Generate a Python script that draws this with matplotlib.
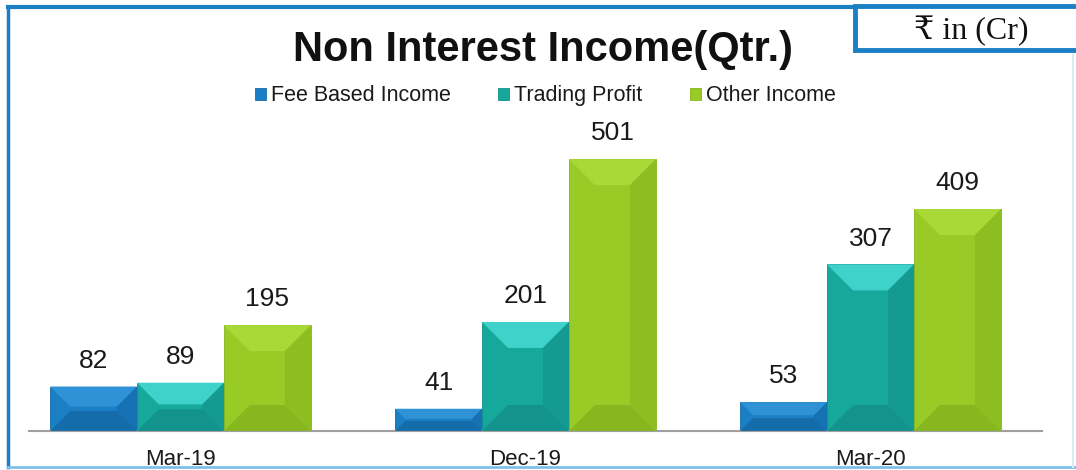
import numpy as np
import matplotlib.pyplot as plt
from matplotlib.patches import Rectangle, Polygon

plt.rcParams['font.family'] = ['Liberation Sans', 'DejaVu Sans']

quarters = ['Mar-19', 'Dec-19', 'Mar-20']
series = ['Fee Based Income', 'Trading Profit', 'Other Income']
fee_based = [82, 41, 53]
trading = [89, 201, 307]
other = [195, 501, 409]

# main face, light (top), dark (right/bottom)
colors = [('#1b7fc6', '#2f92d6', '#156aa8'),
          ('#17a89c', '#3ed2ca', '#12918a'),
          ('#98cb26', '#a9d936', '#85b51e')]

fig = plt.figure(figsize=(10.76, 4.70), dpi=100)
ax = fig.add_axes([8 / 1076, 39 / 470, 1035 / 1076, 331 / 470])

x = np.arange(len(quarters))
width = 0.252
offsets = [-width, 0, width]
px_per_unit = 331 / 610.0

for vals, off, name, (c, cl, cd) in zip([fee_based, trading, other], offsets, series, colors):
    bars = ax.bar(x + off, vals, width, color=c, label=name, edgecolor=cd, linewidth=0.6, zorder=2)
    for b in bars:
        bx, bw, bh = b.get_x(), b.get_width(), b.get_height()
        dy = min(26 / px_per_unit, bh * 0.45)
        dx = min(bw * 0.3, dy * px_per_unit / 345)
        inner = [(bx + dx, bh - dy), (bx + bw - dx, bh - dy), (bx + bw - dx, dy), (bx + dx, dy)]
        ax.add_patch(Polygon([(bx, bh), (bx + bw, bh), inner[1], inner[0]], color=cl, zorder=3, lw=0))
        ax.add_patch(Polygon([(bx + bw, bh), (bx + bw, 0), inner[2], inner[1]], color=cd, zorder=3, lw=0, alpha=0.6))
        ax.add_patch(Polygon([(bx, 0), inner[3], inner[2], (bx + bw, 0)], color=cd, zorder=3, lw=0, alpha=0.9))
        ax.annotate(str(int(bh)), (bx + bw / 2, bh), xytext=(0, 10), textcoords='offset points',
                    ha='center', va='bottom', fontsize=19, color='#1a1a1a')

ax.set_xlim(-0.5, 2.5)
ax.set_ylim(0, 610)
ax.set_xticks(x)
ax.set_xticklabels(quarters, fontsize=16, color='#1a1a1a')
ax.tick_params(axis='x', length=0, pad=13)
ax.set_yticks([])
for s in ['top', 'right', 'left']:
    ax.spines[s].set_visible(False)
ax.spines['bottom'].set_color('#a0a0a0')
ax.spines['bottom'].set_linewidth(1.5)
ax.spines['bottom'].set_bounds(-0.44, 2.497)
ax.patch.set_alpha(0)

fig.text(0.505, 0.893, 'Non Interest Income(Qtr.)', ha='center', va='center',
         fontsize=30, fontweight='bold', color='#111111')

fig.legend(loc='center', bbox_to_anchor=(0.507, 0.796), ncol=3, frameon=False,
           fontsize=15.5, handlelength=0.5, handleheight=0.5, handletextpad=0.25,
           columnspacing=2.2, labelcolor='#1a1a1a')

# outer frame
fig.add_artist(plt.Line2D([8 / 1076, 8 / 1076], [1 - 7 / 470, 1 - 467 / 470], color='#1b7fc6', lw=2.5))
fig.add_artist(plt.Line2D([8 / 1076, 1], [1 - 7 / 470, 1 - 7 / 470], color='#1b7fc6', lw=3))
fig.add_artist(plt.Line2D([8 / 1076, 1], [1 - 467 / 470, 1 - 467 / 470], color='#7fc0e8', lw=2))
fig.add_artist(plt.Line2D([1073 / 1076, 1073 / 1076], [1 - 55 / 470, 1 - 467 / 470], color='#d8ecf8', lw=1.5))

# unit box
fig.add_artist(Rectangle((855 / 1076, 1 - 50 / 470), 0.3, 44 / 470, transform=fig.transFigure,
                         facecolor='white', edgecolor='#1b7fc6', lw=3.5, zorder=5))
fig.text(971 / 1076, 1 - 31 / 470, '₹ in (Cr)', ha='center', va='center', fontsize=23,
         family=['Liberation Serif', 'DejaVu Serif', 'DejaVu Sans'], color='#111111', zorder=6)

fig.savefig('out.png', dpi=100)
